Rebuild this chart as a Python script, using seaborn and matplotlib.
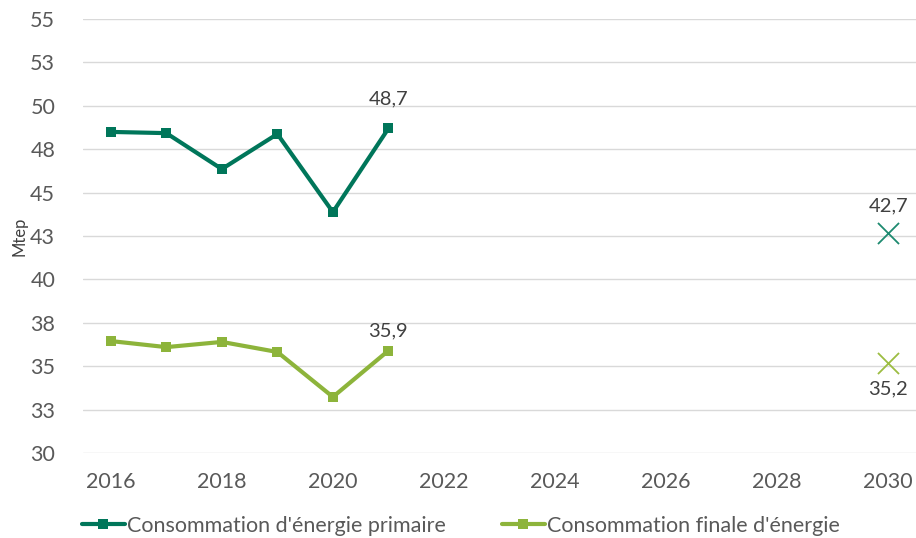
import matplotlib
matplotlib.use("Agg")
import matplotlib.pyplot as plt
import matplotlib.ticker as mticker
import seaborn as sns
import pandas as pd
import numpy as np

years = [2016, 2017, 2018, 2019, 2020, 2021]
primaire = [48.5, 48.43, 46.36, 48.38, 43.88, 48.7]
finale = [36.45, 36.1, 36.4, 35.82, 33.23, 35.9]
target_year = 2030
target_primaire = 42.7
target_finale = 35.2

label_primaire = "Consommation d'énergie primaire"
label_finale = "Consommation finale d'énergie"

c_primaire = "#00765A"
c_finale = "#8DB43B"
c_cross_primaire = "#1E8A70"
c_cross_finale = "#9CBD42"

sns.set_theme(style="white")
plt.rcParams["font.family"] = ["Lato", "DejaVu Sans"]

df = pd.DataFrame({
    "year": years * 2,
    "value": primaire + finale,
    "serie": [label_primaire] * len(years) + [label_finale] * len(years),
})

fig = plt.figure(figsize=(9.16, 5.38), dpi=100)
ax = fig.add_axes([0.0906, 0.158, 0.9094, 0.8065])

sns.lineplot(data=df, x="year", y="value", hue="serie",
             palette={label_primaire: c_primaire, label_finale: c_finale},
             marker="s", markersize=7.5, markeredgewidth=0, linewidth=3,
             ax=ax, legend=True)

ax.scatter([target_year], [target_primaire], marker="x", s=230, linewidths=1.3,
           color=c_cross_primaire, zorder=3)
ax.scatter([target_year], [target_finale], marker="x", s=230, linewidths=1.3,
           color=c_cross_finale, zorder=3)

def fr(v):
    return f"{v:.1f}".replace(".", ",")

txt_kw = dict(ha="center", fontsize=14.5, color="#404040")
ax.annotate(fr(primaire[-1]), (years[-1], primaire[-1]), xytext=(0, 15),
            textcoords="offset points", va="bottom", **txt_kw)
ax.annotate(fr(finale[-1]), (years[-1], finale[-1]), xytext=(0, 8),
            textcoords="offset points", va="bottom", **txt_kw)
ax.annotate(fr(target_primaire), (target_year, target_primaire), xytext=(0, 13),
            textcoords="offset points", va="bottom", **txt_kw)
ax.annotate(fr(target_finale), (target_year, target_finale), xytext=(0, -13),
            textcoords="offset points", va="top", **txt_kw)

ax.set_xlim(2015.5, 2030.5)
ax.set_ylim(30, 55)
ax.set_xticks(np.arange(2016, 2031, 2))
ax.set_yticks(np.arange(30, 55.01, 2.5))
ax.yaxis.set_major_formatter(mticker.FuncFormatter(lambda v, p: f"{int(np.floor(v + 0.5))}"))

ax.grid(axis="y", color="#D9D9D9", linewidth=1)
ax.grid(axis="x", visible=False)
for s in ax.spines.values():
    s.set_visible(False)
ax.tick_params(axis="both", labelsize=15.5, colors="#595959", length=0)
ax.tick_params(axis="x", pad=14)
ax.tick_params(axis="y", pad=20)
ax.set_xlabel("")
ax.set_ylabel("Mtep", fontsize=12, color="#404040", labelpad=2)

leg = ax.legend(loc="upper left", bbox_to_anchor=(-0.025, -0.1), ncol=2, frameon=False,
                fontsize=15.5, handlelength=2.0, handletextpad=0.1, columnspacing=2.6,
                labelcolor="#595959")

fig.savefig("out.png", dpi=100)
